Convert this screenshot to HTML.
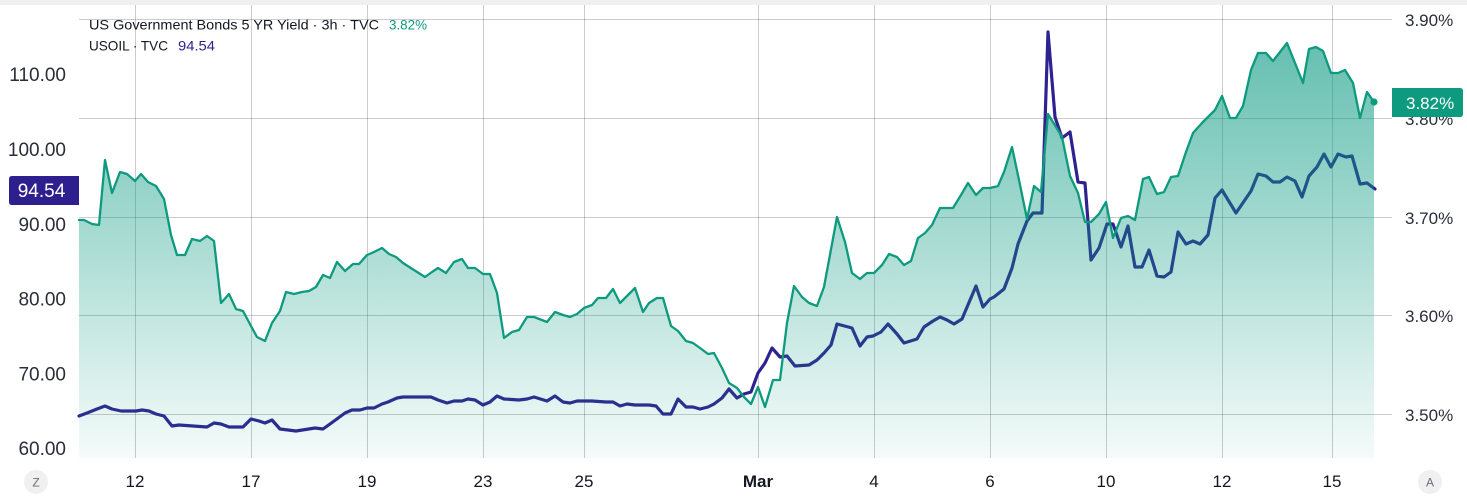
<!DOCTYPE html>
<html>
<head>
<meta charset="utf-8">
<style>
  html,body{margin:0;padding:0;background:#fff;}
  svg{display:block;font-family:"Liberation Sans",sans-serif;}
</style>
</head>
<body>
<svg width="1467" height="502" viewBox="0 0 1467 502" xmlns="http://www.w3.org/2000/svg">
  <defs>
    <linearGradient id="fillg" gradientUnits="userSpaceOnUse" x1="0" y1="40" x2="0" y2="458">
      <stop offset="0" stop-color="#089981" stop-opacity="0.63"/>
      <stop offset="1" stop-color="#089981" stop-opacity="0.04"/>
    </linearGradient>
  </defs>
  <rect x="0" y="0" width="1467" height="502" fill="#ffffff"/>
  <rect x="0" y="0" width="1467" height="5" fill="#f0f0f0"/>

  <!-- grid -->
  <g stroke="#000" stroke-opacity="0.2" stroke-width="1">
    <line x1="79" y1="19.5" x2="1392" y2="19.5"/>
    <line x1="79" y1="118.5" x2="1392" y2="118.5"/>
    <line x1="79" y1="217.5" x2="1392" y2="217.5"/>
    <line x1="79" y1="315.5" x2="1392" y2="315.5"/>
    <line x1="79" y1="414.5" x2="1392" y2="414.5"/>
    <line x1="135.5" y1="5" x2="135.5" y2="458"/>
    <line x1="251.5" y1="5" x2="251.5" y2="458"/>
    <line x1="367.5" y1="5" x2="367.5" y2="458"/>
    <line x1="483.5" y1="5" x2="483.5" y2="458"/>
    <line x1="584.5" y1="5" x2="584.5" y2="458"/>
    <line x1="758.5" y1="5" x2="758.5" y2="458"/>
    <line x1="874.5" y1="5" x2="874.5" y2="458"/>
    <line x1="990.5" y1="5" x2="990.5" y2="458"/>
    <line x1="1106.5" y1="5" x2="1106.5" y2="458"/>
    <line x1="1222.5" y1="5" x2="1222.5" y2="458"/>
    <line x1="1332.5" y1="5" x2="1332.5" y2="458"/>
  </g>

  <!-- USOIL line (drawn beneath the area fill) -->
  <polyline fill="none" stroke="#2E2290" stroke-width="3.2" stroke-linejoin="round" stroke-linecap="round"
    points="79,416 87,413 97,409 105,406 112,409 121,411 136,411 142,410 149,411 156,414 164,416 172,426 179,425 207,427 214,423 221,424 229,427 243,427 251,419 259,421 265,423 272,420 280,429 296,431 315,428 323,429 330,424 345,413 352,410 360,410 367,408 374,408 382,404 388,402 397,398 403,397 431,397 438,400 447,403 454,401 462,401 468,399 475,400 483,405 490,402 497,396 504,399 519,400 527,399 534,397 547,401 555,396 563,402 570,403 577,401 592,401 606,402 613,402 620,406 627,404 635,405 649,405 656,406 663,414 671,414 678,399 686,407 693,407 700,409 708,407 714,404 722,398 729,389 737,398 744,394 751,392 758,373 765,363 772,348 780,357 787,356 795,366 809,365 817,360 824,353 831,345 837,324 852,328 860,346 867,337 873,336 881,332 888,324 897,334 904,343 917,339 924,327 933,321 940,317 947,320 954,324 962,319 976,286 983,307 990,299 994,297 1004,289 1012,268 1018,244 1027,221 1033,213 1042,213 1048,32 1055,117 1062,138 1070,132 1078,182 1085,183 1091,260 1099,248 1107,224 1113,224 1121,247 1128,226 1135,267 1142,267 1149,250 1157,276 1164,277 1171,272 1178,232 1186,244 1193,241 1200,244 1208,235 1215,198 1222,190 1236,213 1251,191 1258,174 1266,176 1273,182 1280,182 1287,177 1295,181 1302,197 1309,176 1317,167 1324,154 1331,167 1338,154 1346,157 1352,156 1360,184 1367,183 1375,189"/>

  <!-- Yield area -->
  <path fill="url(#fillg)" stroke="none"
    d="M79,220 L84,220 92,224 99,225 105,160 112,193 120,172 127,174 135,181 141,174 148,182 156,186 164,199 171,235 177,255 185,255 192,239 200,241 207,236 214,241 221,303 229,294 236,309 243,311 251,326 257,337 265,341 272,323 280,311 286,292 294,294 302,292 309,291 316,287 323,275 330,278 337,262 345,271 353,264 359,264 367,255 374,252 382,248 389,254 396,257 403,263 425,277 432,272 438,268 446,273 454,262 462,259 468,268 475,268 483,274 490,274 497,293 504,338 512,332 519,330 527,317 534,317 547,322 555,312 563,315 570,317 577,314 584,308 592,305 598,298 606,298 613,289 620,303 627,296 635,288 643,312 649,303 657,298 663,298 671,326 678,331 686,341 693,343 700,348 708,354 714,353 722,368 729,383 737,388 744,397 751,404 758,387 765,407 773,380 780,380 787,323 794,286 802,297 809,303 817,306 824,287 837,217 845,242 852,273 860,279 867,273 874,273 882,265 889,254 897,257 904,265 911,261 918,238 925,233 932,225 940,208 953,208 961,195 968,183 976,195 983,188 990,188 998,186 1004,172 1012,147 1019,180 1027,219 1034,186 1041,192 1048,114 1056,127 1062,137 1070,176 1078,193 1085,222 1091,222 1099,214 1106,202 1113,238 1121,218 1128,216 1135,220 1143,179 1149,177 1157,194 1164,192 1171,177 1178,176 1186,152 1193,133 1202,123 1215,110 1222,96 1230,118 1236,118 1243,106 1251,70 1258,53 1266,53 1273,61 1287,43 1303,83 1309,49 1316,47 1323,51 1331,73 1338,73 1345,70 1353,83 1360,118 1367,92 1374,102 L1374,458 L79,458 Z"/>

  <polyline fill="none" stroke="#0E9A7E" stroke-width="2.3" stroke-linejoin="round" stroke-linecap="round"
    points="79,220 84,220 92,224 99,225 105,160 112,193 120,172 127,174 135,181 141,174 148,182 156,186 164,199 171,235 177,255 185,255 192,239 200,241 207,236 214,241 221,303 229,294 236,309 243,311 251,326 257,337 265,341 272,323 280,311 286,292 294,294 302,292 309,291 316,287 323,275 330,278 337,262 345,271 353,264 359,264 367,255 374,252 382,248 389,254 396,257 403,263 425,277 432,272 438,268 446,273 454,262 462,259 468,268 475,268 483,274 490,274 497,293 504,338 512,332 519,330 527,317 534,317 547,322 555,312 563,315 570,317 577,314 584,308 592,305 598,298 606,298 613,289 620,303 627,296 635,288 643,312 649,303 657,298 663,298 671,326 678,331 686,341 693,343 700,348 708,354 714,353 722,368 729,383 737,388 744,397 751,404 758,387 765,407 773,380 780,380 787,323 794,286 802,297 809,303 817,306 824,287 837,217 845,242 852,273 860,279 867,273 874,273 882,265 889,254 897,257 904,265 911,261 918,238 925,233 932,225 940,208 953,208 961,195 968,183 976,195 983,188 990,188 998,186 1004,172 1012,147 1019,180 1027,219 1034,186 1041,192 1048,114 1056,127 1062,137 1070,176 1078,193 1085,222 1091,222 1099,214 1106,202 1113,238 1121,218 1128,216 1135,220 1143,179 1149,177 1157,194 1164,192 1171,177 1178,176 1186,152 1193,133 1202,123 1215,110 1222,96 1230,118 1236,118 1243,106 1251,70 1258,53 1266,53 1273,61 1287,43 1303,83 1309,49 1316,47 1323,51 1331,73 1338,73 1345,70 1353,83 1360,118 1367,92 1374,102"/>
  <circle cx="1374" cy="102" r="3.6" fill="#0E9A7E"/>

  <!-- legend -->
  <g font-size="14" fill="#131722">
    <text x="89" y="29.5" textLength="290" lengthAdjust="spacingAndGlyphs">US Government Bonds 5 YR Yield · 3h · TVC</text>
    <text x="389" y="29.5" fill="#0E9A7E" textLength="38" lengthAdjust="spacingAndGlyphs">3.82%</text>
    <text x="89" y="50.5" textLength="79" lengthAdjust="spacingAndGlyphs">USOIL · TVC</text>
    <text x="178" y="50.5" fill="#2E1F8E" textLength="37" lengthAdjust="spacingAndGlyphs">94.54</text>
  </g>

  <!-- left axis -->
  <g font-size="19" fill="#2a2e39" text-anchor="end">
    <text x="66" y="81">110.00</text>
    <text x="66" y="156">100.00</text>
    <text x="66" y="231">90.00</text>
    <text x="66" y="305.5">80.00</text>
    <text x="66" y="380.5">70.00</text>
    <text x="66" y="455">60.00</text>
  </g>
  <path d="M12,176 H79 V205 H12 Q9,205 9,202 V179 Q9,176 12,176 Z" fill="#2E1F8E"/>
  <text x="41.5" y="197" font-size="19" fill="#ffffff" text-anchor="middle">94.54</text>

  <!-- right axis -->
  <g font-size="17" fill="#2a2e39">
    <text x="1405" y="26">3.90%</text>
    <text x="1405" y="125">3.80%</text>
    <text x="1405" y="224">3.70%</text>
    <text x="1405" y="322">3.60%</text>
    <text x="1405" y="421">3.50%</text>
  </g>
  <path d="M1392,88 H1460 Q1463,88 1463,91 V114 Q1463,117 1460,117 H1392 Z" fill="#0E9A7E"/>
  <text x="1406" y="109" font-size="17" fill="#ffffff">3.82%</text>

  <!-- time axis -->
  <g font-size="17" fill="#131722" text-anchor="middle">
    <text x="135" y="487">12</text>
    <text x="251" y="487">17</text>
    <text x="367" y="487">19</text>
    <text x="483" y="487">23</text>
    <text x="584" y="487">25</text>
    <text x="758" y="487" font-weight="bold">Mar</text>
    <text x="874" y="487">4</text>
    <text x="990" y="487">6</text>
    <text x="1106" y="487">10</text>
    <text x="1222" y="487">12</text>
    <text x="1332" y="487">15</text>
  </g>

  <circle cx="36" cy="482" r="12" fill="#f0f0f0"/>
  <text x="36" y="486.5" font-size="12" fill="#6a6d78" text-anchor="middle">Z</text>
  <circle cx="1430" cy="482" r="12" fill="#f0f0f0"/>
  <text x="1430" y="486.5" font-size="12" fill="#6a6d78" text-anchor="middle">A</text>
</svg>
</body>
</html>
